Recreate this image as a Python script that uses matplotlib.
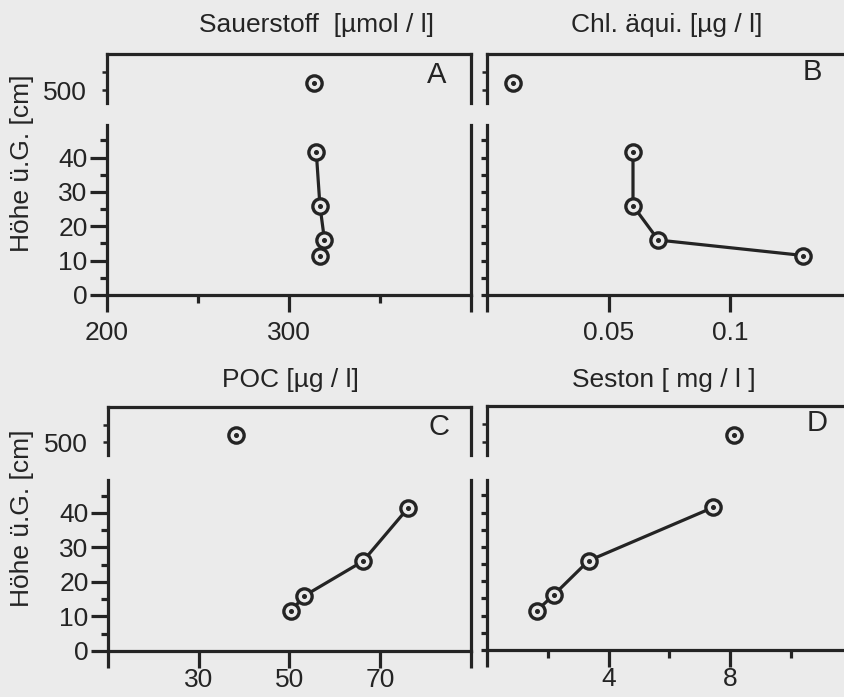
import matplotlib
matplotlib.use("Agg")
import matplotlib.pyplot as plt

plt.rcParams["font.family"] = ["Liberation Sans", "DejaVu Sans"]

# heights above ground [cm]; the 500 cm point sits on the upper (broken) axis
heights = [41.5, 26, 16, 11.5]
top_height = 520

oxygen = [315, 317, 319.5, 317]
oxygen_top = 313.5
chl = [0.060, 0.060, 0.0704, 0.130]
chl_top = 0.0107
poc = [76.2, 66.2, 53.3, 50.3]
poc_top = 38.1
seston = [7.43, 3.34, 2.19, 1.64]
seston_top = 8.12

W, H = 845, 697
INK = "#242424"
BG = "#ebebeb"
LW = 2.3
FS = 19

fig = plt.figure(figsize=(W / 100, H / 100), dpi=100, facecolor=BG)


def ax_px(l, t, r, b):
    ax = fig.add_axes([l / W, 1 - b / H, (r - l) / W, (b - t) / H])
    ax.set_facecolor("none")
    for s in ax.spines.values():
        s.set_linewidth(LW)
        s.set_color(INK)
    return ax


def panel(box_top, split_top, split_bot, bottom, left, right,
          xs, x_top, xlim, xmaj, xmaj_lab, xmin, labelled, xpad):
    up = ax_px(left, box_top, right, split_top)
    lo = ax_px(left, split_bot, right, bottom)
    up.spines["bottom"].set_visible(False)
    lo.spines["top"].set_visible(False)
    for ax in (up, lo):
        ax.set_xlim(*xlim)
    up.set_ylim(464, 600)
    lo.set_ylim(0, 49.5)

    up.set_xticks([])
    up.set_yticks([500, 550])
    up.tick_params(axis="y", length=3.6, width=1.8, color=INK, pad=11,
                   labelsize=FS, labelcolor=INK)
    if labelled:
        up.set_yticklabels(["500", ""])
        lo.set_yticks([0, 10, 20, 30, 40])
        lo.set_yticks([5, 15, 25, 35, 45], minor=True)
        lo.tick_params(axis="y", which="major", length=12, width=LW,
                       color=INK, pad=2, labelsize=FS, labelcolor=INK)
        lo.tick_params(axis="y", which="minor", length=5, width=LW, color=INK)
    else:
        up.set_yticklabels(["", ""])
        lo.set_yticks(list(range(0, 50, 5)))
        lo.set_yticklabels([])
        lo.tick_params(axis="y", length=4.3, width=LW, color=INK)

    lo.set_xticks(xmaj)
    lo.set_xticklabels(xmaj_lab)
    lo.set_xticks(xmin, minor=True)
    lo.tick_params(axis="x", which="major", length=12, width=LW, color=INK,
                   pad=xpad, labelsize=FS, labelcolor=INK)
    lo.tick_params(axis="x", which="minor", length=6, width=LW, color=INK)

    mk = dict(marker="o", markersize=11, markerfacecolor=BG,
              markeredgecolor=INK, markeredgewidth=2.4)
    lo.plot(xs, heights, color=INK, lw=LW, **mk, clip_on=False)
    lo.plot(xs, heights, "o", color=INK, markersize=2.6, clip_on=False)
    up.plot([x_top], [top_height], linestyle="none", **mk)
    up.plot([x_top], [top_height], "o", color=INK, markersize=2.6)
    return up, lo


panel(54, 103, 125, 295, 107, 471, oxygen, oxygen_top, (200, 400),
      [200, 300, 400], ["200", "300", ""], [250, 350], True, 7)
panel(54, 103, 125, 295, 487, 852, chl, chl_top, (0, 0.15),
      [0, 0.05, 0.1, 0.15], ["", "0.05", "0.1", ""], [], False, 7)
panel(407, 455, 480, 651, 108, 471, poc, poc_top, (10, 90),
      [10, 30, 50, 70, 90], ["", "30", "50", "70", ""], [], True, 0.5)
panel(406, 455, 480, 650, 487, 852, seston, seston_top, (0, 12),
      [0, 4, 8, 12], ["", "4", "8", ""], [2, 6, 10], False, 0.5)


def ftext(x, y, s, size=FS, **kw):
    fig.text(x / W, 1 - y / H, s, color=INK, fontsize=size, **kw)


ftext(317, 25, "Sauerstoff  [\u00b5mol / l]", ha="center", va="center")
ftext(667, 25, "Chl. \u00e4qui. [\u00b5g / l]", ha="center", va="center")
ftext(290, 380, "POC [\u00b5g / l]", ha="center", va="center")
ftext(664, 380, "Seston [ mg / l ]", ha="center", va="center")

ftext(437, 75, "A", size=21, ha="center", va="center")
ftext(812, 72, "B", size=21, ha="center", va="center")
ftext(439, 427, "C", size=21, ha="center", va="center")
ftext(817, 423, "D", size=21, ha="center", va="center")

ftext(22, 163, "H\u00f6he \u00fc.G. [cm]", ha="center", va="center", rotation=90)
ftext(22, 518, "H\u00f6he \u00fc.G. [cm]", ha="center", va="center", rotation=90)

fig.savefig("out.png", dpi=100, facecolor=BG)
